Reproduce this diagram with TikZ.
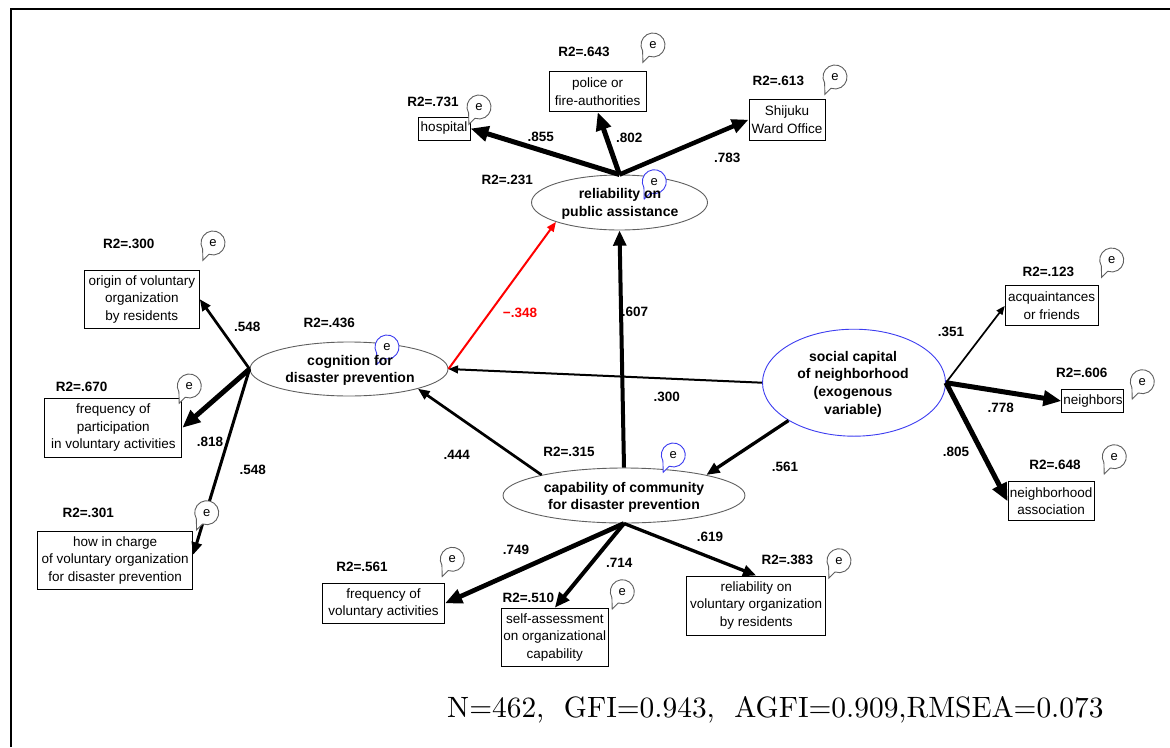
\documentclass[tikz,border=0pt]{standalone}
\usepackage{fontspec}
\newfontfamily\dsans{Liberation Sans}
\newfontfamily\lmten{lmroman10-regular}[Extension=.otf]
\usetikzlibrary{arrows.meta,shapes.geometric}
\definecolor{eblue}{RGB}{60,60,240}
\definecolor{egray}{RGB}{95,95,95}
\definecolor{ered}{RGB}{255,0,0}
\tikzset{
 obs/.style={draw=black, line width=1pt, fill=white, inner sep=0pt, align=center,
   font=\dsans\fontsize{13.5}{17.5}\selectfont},
 lat/.style={ellipse, draw=egray, line width=0.9pt, inner sep=0pt},
 lattext/.style={align=center, inner sep=0pt, font=\dsans\bfseries\fontsize{14}{17.7}\selectfont},
 rsq/.style={inner sep=0pt, font=\dsans\bfseries\fontsize{13.5}{16}\selectfont},
 coef/.style={inner sep=0pt, font=\dsans\bfseries\fontsize{13.5}{16}\selectfont},
 etext/.style={inner sep=0pt, font=\dsans\fontsize{13}{15}\selectfont},
 conn/.style={line width=#1, -{Triangle[length=4pt 2.8, width=3pt 2.4]}}
}
\newcommand{\ebub}[3]{%
  \draw[#3, line width=0.9pt, fill=white] (#2) ++(150:12) arc[start angle=150, end angle=470, radius=12] -- ++(-6,6) -- cycle;
  \node[etext, text=black] (#1) at (#2) {e};
}
\begin{document}
\begin{tikzpicture}[x=1pt,y=-1pt]
\useasboundingbox (0,0) rectangle (1170,747);
\draw[line width=2pt] (11,747) -- (11,9) -- (1170,9);

% latent variables
\node[lat, minimum width=176pt, minimum height=55pt] (rel) at (619.5,202.5) {};
\node[lat, minimum width=198pt, minimum height=54pt] (cog) at (349,369) {};
\node[lat, minimum width=242pt, minimum height=55pt] (cap) at (624,495.5) {};
\node[lat, draw=eblue, minimum width=183pt, minimum height=107pt] (soc) at (854,382.7) {};

% observed variables
\node[obs, minimum width=52pt, minimum height=23pt] (hosp) at (444,128.5) {hospital};
\node[obs, minimum width=97pt, minimum height=40pt] (pol) at (597.7,91.7) {police or\\fire-authorities};
\node[obs, minimum width=76pt, minimum height=41pt] (shij) at (787,119.7) {Shijuku\\Ward Office};
\node[obs, minimum width=115pt, minimum height=58pt] (orig) at (141.8,299.2) {origin of voluntary\\organization\\by residents};
\node[obs, minimum width=137pt, minimum height=59pt] (fp) at (113.3,427.8) {frequency of\\participation\\in voluntary activities};
\node[obs, minimum width=155pt, minimum height=58pt] (hic) at (115.2,560.2) {how in charge\\of voluntary organization\\for disaster prevention};
\node[obs, minimum width=122pt, minimum height=40pt] (fva) at (383.5,603.3) {frequency of\\voluntary activities};
\node[obs, minimum width=107pt, minimum height=58pt] (sa) at (554.8,637.2) {self-assessment\\on organizational\\capability};
\node[obs, minimum width=139pt, minimum height=59pt] (rvo) at (756.2,605.5) {reliability on\\voluntary organization\\by residents};
\node[obs, minimum width=93pt, minimum height=40pt] (acq) at (1051.7,305.9) {acquaintances\\or friends};
\node[obs, minimum width=62pt, minimum height=23pt] (nbr) at (1092.9,401) {neighbors};
\node[obs, minimum width=86pt, minimum height=39pt] (nass) at (1051.2,501.4) {neighborhood\\association};

% paths
\draw[conn=5pt] (rel.north) -- (hosp.east);
\draw[conn=5pt] (rel.north) -- (pol.south);
\draw[conn=4.5pt] (rel.north) -- (shij.west);
\draw[conn=4pt] (cap.north) -- (rel.south);
\draw[conn=2pt, draw=ered] (cog.east) -- (rel.197.5);
\draw[conn=2pt] (soc.west) -- (cog.east);
\draw[conn=2.7pt] (cap.166.6) -- (cog.344.4);
\draw[conn=3.3pt] (soc.210) -- (cap.14);
\draw[conn=2.7pt] (cog.west) -- (orig.east);
\draw[conn=5pt] (cog.west) -- (fp.east);
\draw[conn=3pt] (cog.west) -- (hic.4);
\draw[conn=1.7pt] (soc.east) -- (acq.west);
\draw[conn=5pt] (soc.east) -- (nbr.west);
\draw[conn=5pt] (soc.east) -- (nass.west);
\draw[conn=4.7pt] (cap.south) -- (fva.east);
\draw[conn=4pt] (cap.south) -- (sa.north);
\draw[conn=3.3pt] (cap.south) -- (rvo.north);

% error bubbles
\ebub{eHosp}{479,107}{egray}
\ebub{ePol}{653,45}{egray}
\ebub{eShij}{835,77}{egray}
\ebub{eRel}{654.3,181.7}{eblue}
\ebub{eOrig}{213,243}{egray}
\ebub{eFp}{189.3,386}{egray}
\ebub{eCog}{387,347}{eblue}
\ebub{eHic}{206.7,512.7}{egray}
\ebub{eFva}{452.3,559.3}{egray}
\ebub{eSa}{622.3,591.7}{egray}
\ebub{eCap}{673.3,455}{eblue}
\ebub{eRvo}{839,560.7}{egray}
\ebub{eAcq}{1111.7,260}{egray}
\ebub{eNbr}{1142.3,381.7}{egray}
\ebub{eNass}{1114.3,456.7}{egray}

% latent texts
\node[lattext] (relT) at (620,203.8) {reliability on\\public assistance};
\node[lattext] (cogT) at (350,370.5) {cognition for\\disaster prevention};
\node[lattext] (capT) at (624,497.5) {capability of community\\for disaster prevention};
\node[lattext] (socT) at (853,384) {social capital\\of neighborhood\\(exogenous\\variable)};

% R2 labels
\node[rsq] (r1) at (433,102) {R2=.731};
\node[rsq] (r2) at (584,51.7) {R2=.643};
\node[rsq] (r3) at (778.3,81) {R2=.613};
\node[rsq] (r4) at (507.3,180) {R2=.231};
\node[rsq] (r5) at (128.8,244.3) {R2=.300};
\node[rsq] (r6) at (329.3,323.3) {R2=.436};
\node[rsq] (r7) at (81.7,387.3) {R2=.670};
\node[rsq] (r8) at (88.3,512.7) {R2=.301};
\node[rsq] (r9) at (569,452.3) {R2=.315};
\node[rsq] (r10) at (362,566.7) {R2=.561};
\node[rsq] (r11) at (528.3,598.3) {R2=.510};
\node[rsq] (r12) at (787.3,560) {R2=.383};
\node[rsq] (r13) at (1048.3,272.3) {R2=.123};
\node[rsq] (r14) at (1081.7,373.3) {R2=.606};
\node[rsq] (r15) at (1055,465) {R2=.648};

% coefficients
\node[coef] (c1) at (540.7,136.7) {.855};
\node[coef] (c2) at (629.3,138.3) {.802};
\node[coef] (c3) at (727.3,157.7) {.783};
\node[coef] (c4) at (247.3,327.3) {.548};
\node[coef] (c5) at (210,442.3) {.818};
\node[coef] (c6) at (252.7,470) {.548};
\node[coef, text=ered] (c7) at (520,313.3) {−.348};
\node[coef] (c8) at (635,311.7) {.607};
\node[coef] (c9) at (666.7,396.7) {.300};
\node[coef] (c10) at (456.7,455) {.444};
\node[coef] (c11) at (785,466.7) {.561};
\node[coef] (c12) at (951,332.3) {.351};
\node[coef] (c13) at (1000.7,408.3) {.778};
\node[coef] (c14) at (956,451.7) {.805};
\node[coef] (c15) at (516,550) {.749};
\node[coef] (c16) at (619.3,562.7) {.714};
\node[coef] (c17) at (710,536.7) {.619};

% fit indices
\node[anchor=base west, inner sep=0pt, font=\lmten\fontsize{29.4}{32}\selectfont] (fitidx) at (447,717) {N=462,\ \ GFI=0.943,\ \ AGFI=0.909,RMSEA=0.073};
\end{tikzpicture}
\end{document}
